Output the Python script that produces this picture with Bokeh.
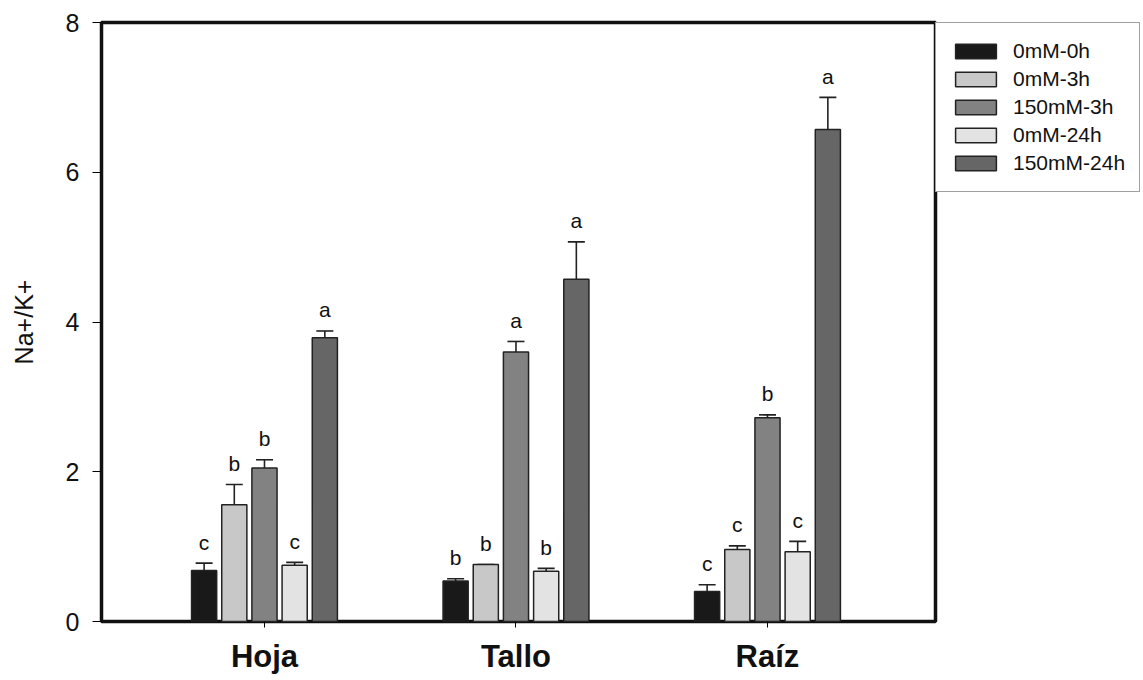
from bokeh.plotting import figure
from bokeh.models import Range1d, ColumnDataSource, Whisker, TeeHead, Legend, LegendItem, FixedTicker
from bokeh.core.properties import value
from bokeh.embed import file_html
from bokeh.resources import INLINE

tissues = ["Hoja", "Tallo", "Raíz"]
series = ["0mM-0h", "0mM-3h", "150mM-3h", "0mM-24h", "150mM-24h"]
colors = ["#191919", "#c8c8c8", "#828282", "#e3e3e3", "#666666"]

means = {
    "0mM-0h":    [0.68, 0.54, 0.40],
    "0mM-3h":    [1.56, 0.76, 0.96],
    "150mM-3h":  [2.05, 3.60, 2.72],
    "0mM-24h":   [0.75, 0.67, 0.93],
    "150mM-24h": [3.79, 4.57, 6.57],
}
errors = {
    "0mM-0h":    [0.10, 0.03, 0.09],
    "0mM-3h":    [0.27, 0.00, 0.05],
    "150mM-3h":  [0.11, 0.14, 0.04],
    "0mM-24h":   [0.04, 0.04, 0.14],
    "150mM-24h": [0.09, 0.50, 0.43],
}
letters = {
    "0mM-0h":    ["c", "b", "c"],
    "0mM-3h":    ["b", "b", "c"],
    "150mM-3h":  ["b", "a", "b"],
    "0mM-24h":   ["c", "b", "c"],
    "150mM-24h": ["a", "a", "a"],
}

offsets = [-0.24, -0.12, 0.0, 0.12, 0.24]
bar_w = 0.1

p = figure(frame_width=834, frame_height=599,
           x_range=Range1d(0.352, 3.668), y_range=Range1d(0, 8),
           output_backend="svg", toolbar_location=None,
           min_border_left=101, min_border_right=0,
           min_border_top=22, min_border_bottom=40)
p.background_fill_color = "white"
p.border_fill_color = "white"
p.grid.visible = False
p.outline_line_color = "#111111"
p.outline_line_width = 3.5

legend_items = []
for i, s in enumerate(series):
    xs = [k + 1 + offsets[i] for k in range(len(tissues))]
    tops = [m + e for m, e in zip(means[s], errors[s])]
    src = ColumnDataSource(dict(x=xs, top=means[s], up=tops, lab=letters[s]))
    r = p.vbar(x="x", top="top", width=bar_w, source=src, fill_color=colors[i],
               line_color="#222222", line_width=1.5)
    w = Whisker(base="x", lower="top", upper="up", source=src, dimension="height",
                line_color="#222222", line_width=1.6,
                lower_head=None,
                upper_head=TeeHead(size=17, line_color="#222222", line_width=1.6))
    p.add_layout(w)
    p.text(x="x", y="up", text="lab", source=src, text_align="center",
           text_baseline="alphabetic", y_offset=-21, text_font_size="21px",
           text_font=value("Liberation Sans"), text_color="#111111")
    legend_items.append(LegendItem(label=s, renderers=[r]))

legend = Legend(items=legend_items, location="top_left",
                glyph_width=51, glyph_height=18, label_height=28,
                label_standoff=12, spacing=0, padding=14, margin=0,
                label_text_font="Liberation Sans", label_text_font_size="21px",
                label_text_color="#111111",
                border_line_color="#444444", border_line_width=1,
                background_fill_color="white", background_fill_alpha=1.0)
p.add_layout(legend, "right")

p.yaxis.ticker = FixedTicker(ticks=[0, 2, 4, 6, 8])
p.yaxis.minor_tick_line_color = None
p.yaxis.major_tick_out = 9
p.yaxis.major_tick_in = 0
p.yaxis.major_tick_line_width = 1
p.yaxis.axis_line_color = None
p.yaxis.major_label_standoff = 13
p.yaxis.major_label_text_font = "Liberation Sans"
p.yaxis.major_label_text_font_size = "25px"
p.yaxis.major_label_text_color = "#111111"
p.yaxis.axis_label = "Na+/K+"
p.yaxis.axis_label_text_font = "Liberation Sans"
p.yaxis.axis_label_text_font_size = "25px"
p.yaxis.axis_label_text_font_style = "normal"
p.yaxis.axis_label_text_color = "#111111"
p.yaxis.axis_label_standoff = 25

p.xaxis.ticker = FixedTicker(ticks=[1, 2, 3])
p.xaxis.major_label_overrides = {1: tissues[0], 2: tissues[1], 3: tissues[2]}
p.xaxis.minor_tick_line_color = None
p.xaxis.major_tick_out = 6
p.xaxis.major_tick_in = 0
p.xaxis.axis_line_color = None
p.xaxis.major_label_standoff = 11
p.xaxis.major_label_text_font = "Liberation Sans"
p.xaxis.major_label_text_font_size = "31px"
p.xaxis.major_label_text_font_style = "bold"
p.xaxis.major_label_text_color = "#111111"

open("out.html", "w").write(file_html(p, INLINE))
